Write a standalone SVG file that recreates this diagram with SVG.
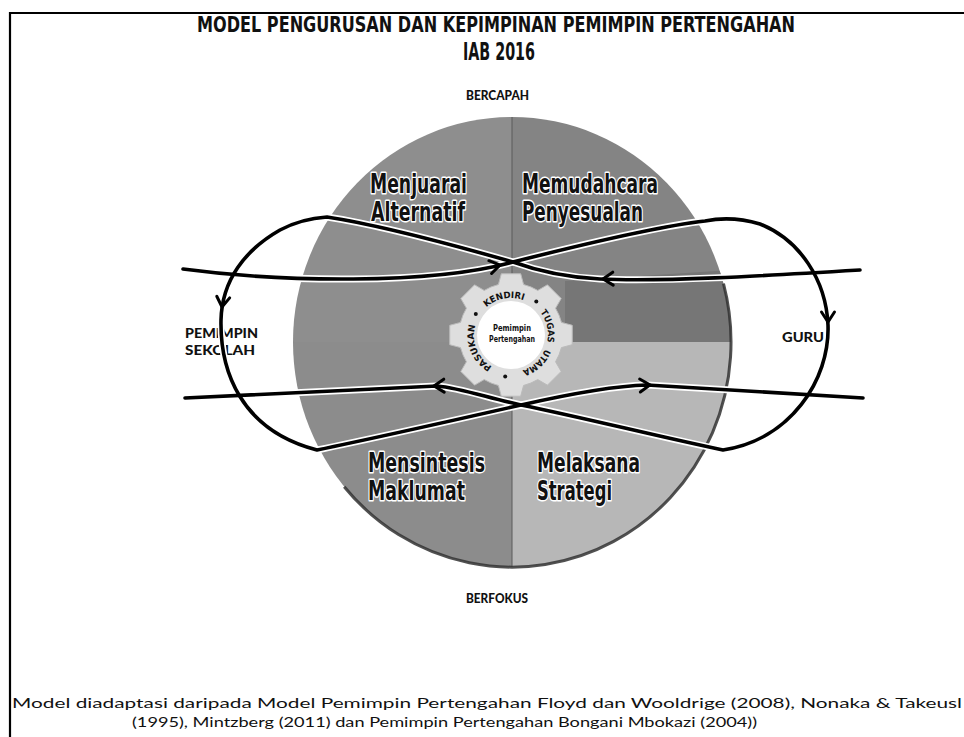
<svg xmlns="http://www.w3.org/2000/svg" width="964" height="737" viewBox="0 0 964 737">
<style>
.frame{fill:none;stroke:#000;stroke-width:2.2}
.title{font-family:"DejaVu Sans Condensed","DejaVu Sans",sans-serif;font-stretch:condensed;font-weight:bold;fill:#111}
.q{font-family:"DejaVu Sans Condensed","DejaVu Sans",sans-serif;font-stretch:condensed;font-weight:bold;font-size:27px;fill:#111;stroke:#fff;stroke-width:3;paint-order:stroke;stroke-linejoin:round}
.lb{font-family:Lato,"DejaVu Sans",sans-serif;font-weight:900;font-size:14px;fill:#111}
.ring{font-family:"DejaVu Sans Condensed","DejaVu Sans",sans-serif;font-stretch:condensed;font-weight:bold;font-size:9px;fill:#111}
.ctr{font-family:"DejaVu Sans Condensed","DejaVu Sans",sans-serif;font-stretch:condensed;font-weight:bold;font-size:8.5px;fill:#111}
.cap{font-family:Lato,"Open Sans",sans-serif;font-size:14px;fill:#111}
.halo{fill:none;stroke:#fff;stroke-width:7;stroke-linejoin:round}
.line{fill:none;stroke:#000;stroke-width:3.6;stroke-linejoin:round;stroke-linecap:round}
.ah{fill:none;stroke:#000;stroke-width:3;stroke-linejoin:miter;stroke-linecap:round}
</style>
<defs>
<clipPath id="disc"><ellipse cx="512" cy="342" rx="219" ry="225"/></clipPath>
<path id="ah" class="ah" d="M-10,-6.5 L0,0 L-10,6.5"/>
<path id="ringPath" d="M511,372 A37,37 0 1 1 511,298 A37,37 0 1 1 511,372"/>
</defs>
<rect width="964" height="737" fill="#fff"/>
<path class="frame" d="M10,737 V13 H964"/>

<g id="title">
<text class="title" x="197" y="32" font-size="22" textLength="598" lengthAdjust="spacingAndGlyphs">MODEL PENGURUSAN DAN KEPIMPINAN PEMIMPIN PERTENGAHAN</text>
<text class="title" x="463" y="60" font-size="24" textLength="72" lengthAdjust="spacingAndGlyphs">IAB 2016</text>
</g>
<g id="bercapah"><text class="lb" x="466" y="100" font-size="12" textLength="63" lengthAdjust="spacingAndGlyphs">BERCAPAH</text></g>
<g id="berfokus"><text class="lb" x="466" y="603" font-size="12" textLength="62" lengthAdjust="spacingAndGlyphs">BERFOKUS</text></g>

<g id="circle">
<g clip-path="url(#disc)">
<rect x="293" y="117" width="219" height="225" fill="#8e8e8e"/>
<rect x="512" y="117" width="219" height="225" fill="#848484"/>
<path d="M565,281 L731,270 L731,342 L565,342 Z" fill="#767676"/>
<rect x="293" y="342" width="219" height="226" fill="#8c8c8c"/>
<rect x="512" y="342" width="219" height="226" fill="#b7b7b7"/>
<line x1="512" y1="117" x2="512" y2="567" stroke="#5a5a5a" stroke-width="1"/>
</g>
<path d="M723.5,283.7 A219,225 0 0 1 344.2,486.7" fill="none" stroke="#333" stroke-width="3" opacity="0.85"/>
</g>

<g id="q-menjuarai"><text class="q" x="370" y="193" textLength="97" lengthAdjust="spacingAndGlyphs">Menjuarai</text><text class="q" x="371" y="221" textLength="94" lengthAdjust="spacingAndGlyphs">Alternatif</text></g>
<g id="q-memudahcara"><text class="q" x="522" y="193" textLength="136" lengthAdjust="spacingAndGlyphs">Memudahcara</text><text class="q" x="522" y="221" textLength="121" lengthAdjust="spacingAndGlyphs">Penyesualan</text></g>
<g id="q-mensintesis"><text class="q" x="368" y="472" textLength="117" lengthAdjust="spacingAndGlyphs">Mensintesis</text><text class="q" x="368" y="500" textLength="97" lengthAdjust="spacingAndGlyphs">Maklumat</text></g>
<g id="q-melaksana"><text class="q" x="537" y="472" textLength="103" lengthAdjust="spacingAndGlyphs">Melaksana</text><text class="q" x="537" y="500" textLength="75" lengthAdjust="spacingAndGlyphs">Strategi</text></g>

<g id="pemimpin-sekolah"><text class="lb" x="185" y="338" textLength="73" lengthAdjust="spacingAndGlyphs">PEMIMPIN</text><text class="lb" x="185" y="355" textLength="70" lengthAdjust="spacingAndGlyphs">SEKOLAH</text></g>
<g id="guru"><text class="lb" x="782" y="342" textLength="42" lengthAdjust="spacingAndGlyphs">GURU</text></g>

<g id="connectors">
<path class="halo" d="M183,269 C280,282 430,285 513,262 C580,245 660,226 705,221 C720,218 740,218 760,224 C800,240 826,280 828,325 C830,380 790,440 723,450 C660,437 585,418 521,405 C485,397 460,388 437,386 L185,398"/>
<path class="halo" d="M860,270 C760,276 660,282 600,279 C560,277 535,270 513,262 C450,244 380,225 327,217 C312,218 295,222 280,230 C245,250 222,280 221,320 C220,370 240,430 317,450 C380,437 455,420 521,405 C565,395 610,386 647,385 L863,398"/>
<path class="line" d="M183,269 C280,282 430,285 513,262 C580,245 660,226 705,221 C720,218 740,218 760,224 C800,240 826,280 828,325 C830,380 790,440 723,450 C660,437 585,418 521,405 C485,397 460,388 437,386 L185,398"/>
<path class="line" d="M860,270 C760,276 660,282 600,279 C560,277 535,270 513,262 C450,244 380,225 327,217 C312,218 295,222 280,230 C245,250 222,280 221,320 C220,370 240,430 317,450 C380,437 455,420 521,405 C565,395 610,386 647,385 L863,398"/>
<use href="#ah" transform="translate(500,265) rotate(-12)"/>
<use href="#ah" transform="translate(603,279) rotate(178)"/>
<use href="#ah" transform="translate(828,322) rotate(90)"/>
<use href="#ah" transform="translate(222,307) rotate(97)"/>
<use href="#ah" transform="translate(434,386) rotate(178)"/>
<use href="#ah" transform="translate(650,385) rotate(-3)"/>
</g>

<g id="gear">
<path d="M561.46,322.42 L572.24,325.30 L572.24,344.70 L561.46,347.58 A52,52 0 0 1 555.57,361.78 L561.16,371.44 L547.44,385.16 L537.78,379.57 A52,52 0 0 1 523.58,385.46 L520.70,396.24 L501.30,396.24 L498.42,385.46 A52,52 0 0 1 484.22,379.57 L474.56,385.16 L460.84,371.44 L466.43,361.78 A52,52 0 0 1 460.54,347.58 L449.76,344.70 L449.76,325.30 L460.54,322.42 A52,52 0 0 1 466.43,308.22 L460.84,298.56 L474.56,284.84 L484.22,290.43 A52,52 0 0 1 498.42,284.54 L501.30,273.76 L520.70,273.76 L523.58,284.54 A52,52 0 0 1 537.78,290.43 L547.44,284.84 L561.16,298.56 L555.57,308.22 A52,52 0 0 1 561.46,322.42 Z" fill="#dedede" stroke="#bbb" stroke-width="1"/>
<circle cx="511" cy="335" r="34" fill="#fff"/>
<text class="ring"><textPath href="#ringPath" startOffset="44" text-anchor="middle" textLength="48" lengthAdjust="spacingAndGlyphs">PASUKAN</textPath></text>
<text class="ring"><textPath href="#ringPath" startOffset="109" text-anchor="middle" textLength="40" lengthAdjust="spacingAndGlyphs">KENDIRI</textPath></text>
<text class="ring"><textPath href="#ringPath" startOffset="165.5" text-anchor="middle" textLength="32" lengthAdjust="spacingAndGlyphs">TUGAS</textPath></text>
<text class="ring"><textPath href="#ringPath" startOffset="204.5" text-anchor="middle" textLength="32" lengthAdjust="spacingAndGlyphs">UTAMA</textPath></text>
<circle cx="475.8" cy="313.9" r="2" fill="#111"/>
<circle cx="536.3" cy="301.5" r="2" fill="#111"/>
<circle cx="505.2" cy="376.6" r="2" fill="#111"/>
<text class="ctr" x="512" y="331" text-anchor="middle" textLength="38" lengthAdjust="spacingAndGlyphs">Pemimpin</text>
<text class="ctr" x="512" y="342" text-anchor="middle" textLength="46" lengthAdjust="spacingAndGlyphs">Pertengahan</text>
</g>

<g id="caption">
<text class="cap" x="12" y="708" textLength="950" lengthAdjust="spacingAndGlyphs">Model  diadaptasi daripada  Model Pemimpin Pertengahan Floyd dan Wooldrige (2008), Nonaka &amp; Takeusl</text>
<text class="cap" x="132" y="727" textLength="625" lengthAdjust="spacingAndGlyphs">(1995), Mintzberg (2011) dan Pemimpin Pertengahan Bongani Mbokazi (2004))</text>
</g>
</svg>
